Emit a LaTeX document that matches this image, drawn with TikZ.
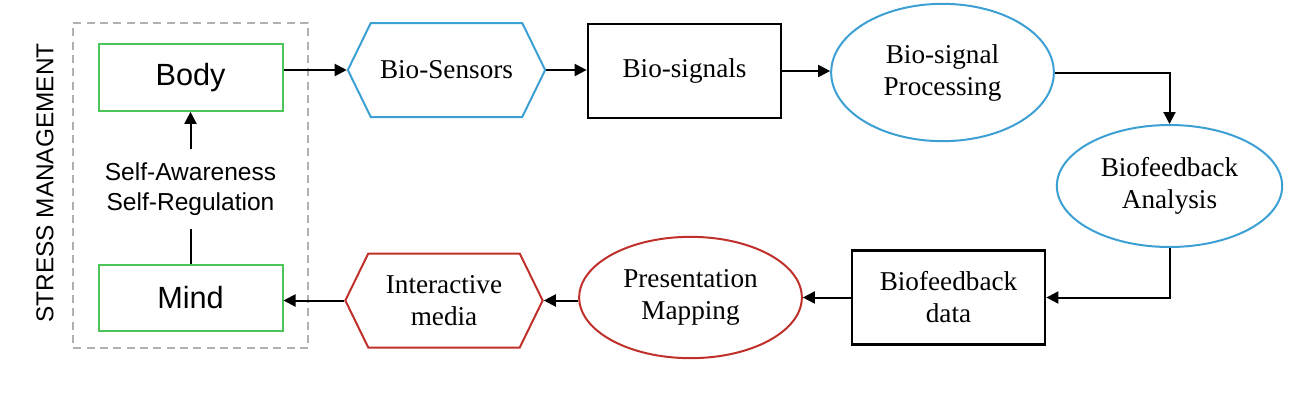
\documentclass[tikz,border=0pt]{standalone}
\usepackage{fontspec}
\setmainfont{Liberation Serif}
\newfontfamily\arialfont{Liberation Sans}
\usetikzlibrary{arrows.meta,shapes.geometric,shapes.symbols}
\definecolor{boxgreen}{HTML}{4CC65A}
\definecolor{boxblue}{HTML}{3DA0D5}
\definecolor{boxred}{HTML}{C0302A}
\definecolor{framegray}{HTML}{B0B0B0}
\tikzset{
  serif/.style={font=\fontsize{20.4}{24}\selectfont,align=center},
  sans/.style={font=\arialfont\fontsize{18.4}{22}\selectfont,align=center},
  dashframe/.style={rectangle,draw=framegray,line width=1.2pt,dash pattern=on 6pt off 4pt,minimum width=176pt,minimum height=244pt},
  greenbox/.style={rectangle,draw=boxgreen,line width=1.5pt,minimum width=138pt,minimum height=50pt,font=\arialfont\fontsize{23}{27}\selectfont},
  blackbox/.style={rectangle,draw=black,line width=1.8pt,minimum width=145pt,minimum height=70.5pt,serif},
  hexa/.style={signal,signal to=west and east,signal pointer angle=128,line width=1.5pt,minimum width=148pt,minimum height=70.5pt,serif},
  oval/.style={ellipse,line width=1.5pt,inner sep=0pt,serif},
  arr/.style={-{Triangle[length=9pt,width=9pt]},line width=1.5pt},
}
\begin{document}
\begin{tikzpicture}[x=0.75pt,y=-0.75pt]
\useasboundingbox (0,0) rectangle (1312,404);

\node[dashframe] (frame) at (190.5,185.5) {};
\node[sans,font=\arialfont\fontsize{18.3}{22}\selectfont,rotate=90] (stress) at (45,183) {STRESS MANAGEMENT};
\node[greenbox] (body) at (190.5,77.5) {Body};
\node[greenbox] (mind) at (190.5,298) {Mind};
\node[sans,inner sep=10pt] (self) at (190.5,189) {Self-Awareness\\Self-Regulation};

\node[hexa,draw=boxblue] (sensors) at (446.5,70) {Bio-Sensors};
\node[blackbox] (signals) at (684.5,71) {Bio-signals};
\node[oval,draw=boxblue,minimum width=167pt,minimum height=103pt] (proc) at (942.5,72.5) {Bio-signal\\Processing};
\node[oval,draw=boxblue,minimum width=169pt,minimum height=91.5pt] (analysis) at (1169.5,186) {Biofeedback\\Analysis};
\node[blackbox] (data) at (948.5,297.5) {Biofeedback\\data};
\node[oval,draw=boxred,minimum width=167pt,minimum height=91pt] (pres) at (690.5,297.5) {Presentation\\Mapping};
\node[hexa,draw=boxred] (media) at (444,300.5) {Interactive\\media};

\draw[arr] (self) -- (body);
\draw[line width=1.5pt] (mind) -- (self);
\draw[arr] (body.east |- sensors.west) -- (sensors.west);
\draw[arr] (sensors.east) -- (sensors.east -| signals.west);
\draw[arr] (signals.east) -- (signals.east -| proc.west);
\draw[arr] (proc.east) -| (analysis.north);
\draw[arr] (analysis.south) |- (data.east);
\draw[arr] (data.west) -- (data.west -| pres.east);
\draw[arr] (media.east -| pres.west) -- (media.east);
\draw[arr] (media.west) -- (media.west -| mind.east);
\end{tikzpicture}
\end{document}
